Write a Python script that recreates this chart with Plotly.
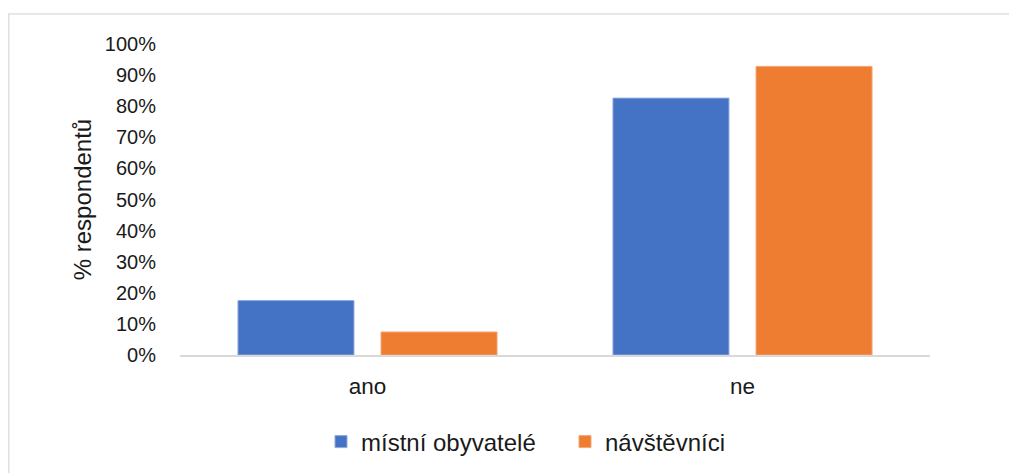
import plotly.graph_objects as go

categories = ["ano", "ne"]
mistni = [0.175, 0.826]
navstevnici = [0.074, 0.928]
series_names = ["místní obyvatelé", "návštěvníci"]
tick_vals = [i / 10 for i in range(11)]
tick_text = [f"{i*10}%" for i in range(11)]

FONT = "Liberation Sans"
# page body has an 8px margin, so the figure is sized to fit the rest of the window
W, H = 1009, 465
L, R, T, B = 172, 87, 36, 118
pw = W - L - R
ph = H - T - B

def px_x(fx):
    return (fx - L) / pw

def px_y(fy):
    return (T + ph - fy) / ph

fig = go.Figure()
fig.add_trace(go.Bar(x=categories, y=mistni, name=series_names[0],
                     marker=dict(color="#4472C4", line=dict(color="#8FAADC", width=1))))
fig.add_trace(go.Bar(x=categories, y=navstevnici, name=series_names[1],
                     marker=dict(color="#EE7D31", line=dict(color="#F4A676", width=1))))

fig.update_layout(
    width=W, height=H,
    margin=dict(l=L, r=R, t=T, b=B, autoexpand=False),
    paper_bgcolor="white", plot_bgcolor="white",
    barmode="group", bargap=0.237, bargroupgap=0.189,
    font=dict(family=FONT, size=20, color="#1a1a1a"),
    showlegend=True,
    legend=dict(orientation="h", x=px_x(557), xanchor="center", y=px_y(434), yanchor="middle",
                font=dict(size=24), itemwidth=30, tracegroupgap=0, traceorder="normal",
                entrywidth=199),
    xaxis=dict(showgrid=False, showline=True, linecolor="#D9D9D9", linewidth=1.5,
               ticks="", tickfont=dict(size=22.5), zeroline=False, ticklabelstandoff=10,
               automargin=False),
    yaxis=dict(range=[0, 1.0], tickvals=tick_vals, ticktext=tick_text, showgrid=False,
               zeroline=False, showline=False, ticks="", ticklabelstandoff=23,
               automargin=False,
               title=dict(text="% respondentů", font=dict(size=24), standoff=6)),
    shapes=[dict(type="rect", xref="paper", yref="paper",
                 x0=px_x(0.75), x1=px_x(W + 10),
                 y0=px_y(H + 10), y1=px_y(6),
                 line=dict(color="#DCE1E6", width=1.5), fillcolor="rgba(0,0,0,0)", layer="below")],
)
fig.write_html("out.html")
